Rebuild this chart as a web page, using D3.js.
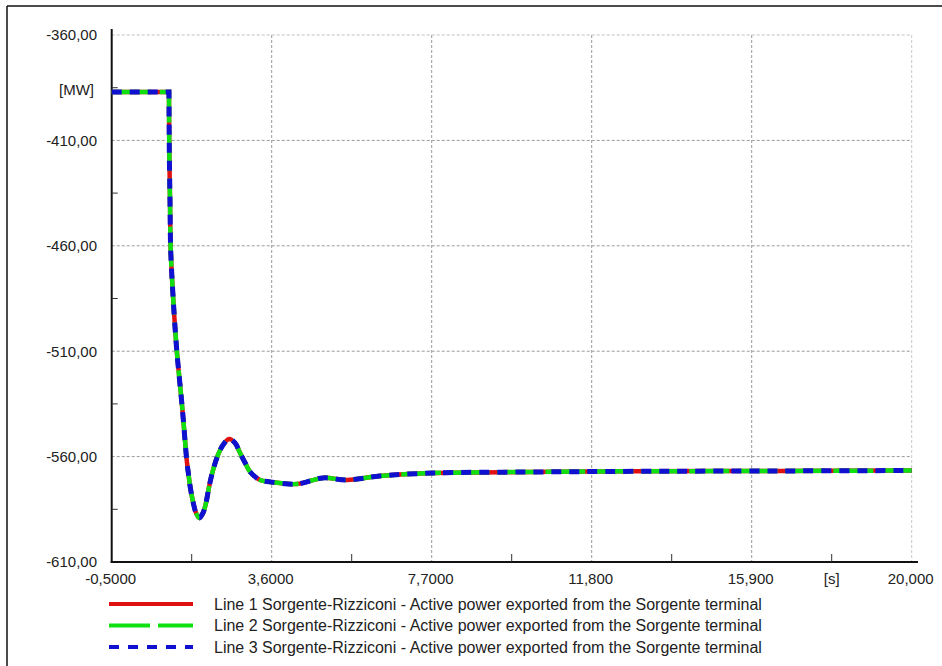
<!DOCTYPE html>
<html>
<head>
<meta charset="utf-8">
<script src="https://cdn.jsdelivr.net/npm/d3@7"></script>
<style>
  body { margin: 0; background: #fff; }
  svg { display: block; font-family: "Liberation Sans", Arial, sans-serif; }
</style>
</head>
<body>
<div id="chart"></div>
<script>
// time [s] and active power [MW] (all three lines overlap)
const time  = [-0.5, 0.968, 0.976, 0.994, 1.012, 1.078, 1.166, 1.289, 1.335, 1.378, 1.422, 1.463, 1.524, 1.591, 1.66, 1.745,
               1.84, 1.916, 1.98, 2.044, 2.12, 2.224, 2.352, 2.506, 2.66, 2.79, 2.92, 3.05, 3.30, 3.56,
               4.25, 4.91, 5.53, 6.37, 7.74, 10.22, 12.86, 16.63, 20.0];
const power = [-387.0, -387.0, -414.6, -438.3, -462.0, -485.7, -509.4, -533.1, -542.6, -552.1, -561.6, -567.7, -575.8, -582.0, -586.7, -589.1,
               -586.7, -582.0, -575.8, -570.2, -564.9, -559.2, -554.5, -551.6, -553.5, -558.3, -563.0, -567.3, -571.1, -572.0,
               -573.0, -570.1, -571.1, -569.2, -567.8, -567.3, -567.0, -566.8, -566.6];

const seriesNames = [
    "Line 1 Sorgente-Rizziconi - Active power exported from the Sorgente terminal",
    "Line 2 Sorgente-Rizziconi - Active power exported from the Sorgente terminal",
    "Line 3 Sorgente-Rizziconi - Active power exported from the Sorgente terminal"
];
const seriesColors = ["#e01010", "#10e010", "#1010d0"];
const seriesDash = [null, "40,8", "10,8"];
const seriesWidth = [4.5, 4.5, 5];

const xTicks = [-0.5, 3.6, 7.7, 11.8, 15.9, 20.0];
const xTickLabels = ["-0,5000", "3,6000", "7,7000", "11,800", "15,900", "20,000"];
const yTicks = [-360, -410, -460, -510, -560, -610];
const yTickLabels = ["-360,00", "-410,00", "-460,00", "-510,00", "-560,00", "-610,00"];

const width = 942, height = 666;
const plot = {left: 111.7, right: 911.7, top: 35, bottom: 562};

const svg = d3.select("#chart").append("svg")
    .attr("width", width)
    .attr("height", height);

// outer frame (top + left edge only)
svg.append("line").attr("x1", 7).attr("x2", width).attr("y1", 6).attr("y2", 6)
    .attr("stroke", "#111").attr("stroke-width", 1.5);
svg.append("line").attr("x1", 7).attr("x2", 7).attr("y1", 6).attr("y2", height)
    .attr("stroke", "#111").attr("stroke-width", 1.5);

const x = d3.scaleLinear().domain([-0.5, 20.0]).range([plot.left, plot.right]);
const y = d3.scaleLinear().domain([-610, -360]).range([plot.bottom, plot.top]);

// minor ticks halfway between the major ones
const xMinor = d3.pairs(xTicks).map(([a, b]) => (a + b) / 2);
const yMinor = d3.pairs(yTicks).map(([a, b]) => (a + b) / 2);

// grid
const grid = svg.append("g");
grid.selectAll(".gx").data(xTicks.slice(1)).enter().append("line")
    .attr("x1", d => x(d)).attr("x2", d => x(d))
    .attr("y1", plot.top).attr("y2", plot.bottom)
    .attr("stroke", (d, i) => i === 4 ? "#c8c8c8" : "#9a9a9a")
    .attr("stroke-width", 1)
    .attr("stroke-dasharray", "3,2");
grid.selectAll(".gy").data(yTicks.slice(0, -1)).enter().append("line")
    .attr("x1", plot.left).attr("x2", plot.right)
    .attr("y1", d => y(d)).attr("y2", d => y(d))
    .attr("stroke", (d, i) => i === 0 ? "#c0c0c0" : "#9a9a9a")
    .attr("stroke-width", 1)
    .attr("stroke-dasharray", "3,2");

// axes lines
svg.append("line").attr("x1", plot.left).attr("x2", plot.left)
    .attr("y1", 29).attr("y2", plot.bottom + 1)
    .attr("stroke", "#111").attr("stroke-width", 2);
svg.append("line").attr("x1", plot.left - 1).attr("x2", 918)
    .attr("y1", plot.bottom).attr("y2", plot.bottom)
    .attr("stroke", "#111").attr("stroke-width", 2);

// minor ticks (pointing into the plot)
svg.selectAll(".mx").data(xMinor).enter().append("line")
    .attr("x1", d => x(d)).attr("x2", d => x(d))
    .attr("y1", plot.bottom).attr("y2", plot.bottom - 8)
    .attr("stroke", "#333").attr("stroke-width", 1);
svg.selectAll(".my").data(yMinor).enter().append("line")
    .attr("x1", plot.left).attr("x2", plot.left + 6)
    .attr("y1", d => y(d)).attr("y2", d => y(d))
    .attr("stroke", "#333").attr("stroke-width", 1);

// tick labels
svg.selectAll(".ty").data(yTicks).enter().append("text")
    .attr("x", 97).attr("y", d => y(d))
    .attr("dy", "0.36em")
    .attr("text-anchor", "end")
    .attr("font-size", 15).attr("fill", "#222")
    .text((d, i) => yTickLabels[i]);
svg.selectAll(".tx").data(xTicks).enter().append("text")
    .attr("x", d => x(d) - 1).attr("y", 584)
    .attr("text-anchor", "middle")
    .attr("font-size", 15).attr("fill", "#222")
    .text((d, i) => xTickLabels[i]);

// unit labels sit at a minor tick position
svg.append("text").attr("x", 94).attr("y", y(yMinor[0]) + 2)
    .attr("dy", "0.36em").attr("text-anchor", "end")
    .attr("font-size", 15).attr("fill", "#222").text("[MW]");
svg.append("text").attr("x", x(xMinor[4])).attr("y", 584)
    .attr("text-anchor", "middle")
    .attr("font-size", 15).attr("fill", "#222").text("[s]");

// curves: straight pre-fault segment, smooth curve from the step onwards
const points = time.map((t, i) => ({t: t, v: power[i]}));
const flat = d3.line().x(d => x(d.t)).y(d => y(d.v));
const smooth = d3.line().x(d => x(d.t)).y(d => y(d.v)).curve(d3.curveCatmullRom.alpha(0.5));
const pathD = flat(points.slice(0, 2)) + smooth(points.slice(1)).replace(/^M/, "L");

seriesNames.forEach((name, i) => {
    svg.append("path")
        .attr("d", pathD)
        .attr("fill", "none")
        .attr("stroke", seriesColors[i])
        .attr("stroke-width", seriesWidth[i])
        .attr("stroke-dasharray", seriesDash[i]);
});

// legend
const legend = svg.append("g");
seriesNames.forEach((name, i) => {
    const ly = 604 + i * 21.5;
    legend.append("line")
        .attr("x1", 109).attr("x2", 193)
        .attr("y1", ly).attr("y2", ly)
        .attr("stroke", seriesColors[i])
        .attr("stroke-width", 4)
        .attr("stroke-dasharray", i === 1 ? "41,8" : i === 2 ? "10,9" : null);
    legend.append("text")
        .attr("x", 214).attr("y", ly)
        .attr("dy", "0.36em")
        .attr("font-size", 16).attr("fill", "#222")
        .text(name);
});
</script>
</body>
</html>
